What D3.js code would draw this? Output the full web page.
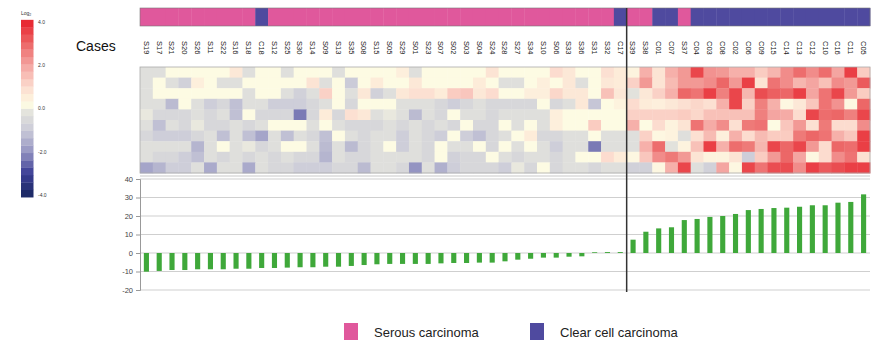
<!DOCTYPE html>
<html>
<head>
<meta charset="utf-8">
<script src="https://cdn.jsdelivr.net/npm/d3@7"></script>
<style>
body { margin: 0; background: #fff; }
text { font-family: "Liberation Sans", Arial, sans-serif; }
</style>
</head>
<body>
<div id="wrapper"></div>
<script>
const cases = ["S19","S17","S21","S20","S26","S11","S22","S16","S18","C18","S12","S25","S30","S14","S09","S13","S35","S08","S15",
    "S05","S29","S01","S23","S07","S02","S03","S04","S24","S28","S27","S34","S10","S06","S33","S36","S31","S32","C17",
    "S39","S38","C01","C07","S37","C04","C03","C08","C02","C06","C09","C15","C14","C13","C12","C10","C16","C11","C05"];

const barValues = [-10.1,-9.7,-9.2,-9.2,-8.8,-8.8,-8.8,-8.5,-8.5,-8.1,-8.1,-7.9,-7.7,-7.7,-7.4,-7.4,-7.0,-6.5,-6.1,
    -5.9,-5.9,-5.9,-5.9,-5.6,-5.4,-5.4,-5.2,-5.2,-4.5,-3.6,-3.1,-2.5,-2.5,-2.0,-1.8,0.4,0.5,0.5,
    7.2,11.5,13.3,13.9,17.8,18.4,19.5,20.0,21.1,23.2,23.8,24.3,24.5,25.0,25.8,25.8,27.2,27.6,31.7];

// log2 values, one array per heatmap row (57 cases each)
const heatRow1 = [-0.3,-0.3,0.2,0.2,0.2,0.2,0.2,0.7,-0.3,0.2,0.2,-0.3,0.2,0.2,0.2,-0.3,0.2,0.2,0.2,
    0.2,0.5,-0.3,0.2,0.2,0.2,0.2,0.2,0.8,0.2,0.2,0.2,0.2,1.0,0.7,0.2,0.2,0.9,0.6,
    0.4,1.8,0.8,1.8,2.2,3.5,2.3,2.2,1.8,1.8,1.3,1.7,2.4,2.9,2.4,2.9,2.0,3.6,1.3];
const heatRow2 = [-0.3,0.2,-0.3,-0.8,0.5,0.2,-0.3,-0.3,0.2,0.2,0.2,0.2,0.2,0.8,-0.3,0.2,-1.0,0.2,0.6,
    0.2,0.2,0.7,0.2,0.2,0.2,0.2,0.6,0.2,-0.3,-0.3,0.2,0.5,0.2,0.7,-0.3,0.2,0.7,0.6,
    1.2,2.2,0.8,1.6,2.2,2.2,2.4,3.0,2.2,3.6,0.8,2.8,2.4,1.7,2.0,1.5,2.4,2.2,3.2];
const heatRow3 = [-0.3,0.2,0.2,0.2,0.2,0.2,0.2,0.2,-0.3,0.2,0.2,-0.3,-0.8,-0.3,1.2,0.2,-0.3,0.7,-0.8,
    -0.3,0.7,0.9,0.9,0.6,1.3,1.4,0.7,1.0,0.2,0.2,0.5,0.5,1.1,0.7,0.7,0.2,1.5,0.7,
    -0.2,0.7,1.2,1.8,3.0,2.8,3.6,2.6,3.5,1.7,3.4,3.1,3.0,3.6,2.0,2.8,3.5,2.2,1.3];
const heatRow4 = [-0.3,-0.3,-1.3,0.2,-0.3,-0.9,-0.6,-1.2,-0.3,-0.3,-0.9,-0.9,-0.9,-0.6,-0.3,0.2,-0.6,0.2,0.2,
    0.2,-0.3,-0.3,-0.3,-0.6,-0.9,-0.6,-0.3,-0.6,-0.6,-0.6,-0.6,0.2,-0.6,-0.3,0.7,-1.1,0.2,0.4,
    1.0,0.6,0.5,0.7,0.9,1.1,0.9,1.8,3.5,1.2,2.6,1.8,0.3,0.7,1.4,2.8,2.3,0.3,3.0];
const heatRow5 = [-0.1,-0.6,-0.6,-0.6,-0.3,-0.6,-0.3,-1.2,0.2,-0.6,-0.6,-0.6,-2.3,-0.6,0.6,-0.6,0.9,0.7,-0.3,
    -0.1,-0.3,-1.3,-0.3,-0.6,0.2,-0.3,-0.3,-0.6,-0.3,-0.3,-0.3,-0.3,0.5,0.2,0.2,0.2,0.2,0.2,
    1.2,1.2,1.2,1.2,1.3,1.1,1.5,1.5,1.5,1.5,2.6,2.0,1.9,1.0,3.5,2.9,3.0,2.6,3.5];
const heatRow6 = [-0.3,-1.2,-0.3,-0.6,-0.1,-0.6,-0.6,-0.3,-0.6,-0.3,0.2,0.2,0.2,-0.3,0.2,-0.3,-0.6,-0.6,-0.6,
    -0.3,-0.6,-0.3,-0.6,-0.3,-0.6,0.2,-0.6,-0.6,0.2,-0.3,0.2,-0.3,0.5,0.2,0.2,1.3,0.2,0.2,
    1.8,0.2,1.0,0.4,0.8,2.8,1.9,2.4,0.9,2.7,2.8,0.2,1.4,2.2,0.9,2.7,1.0,1.0,2.4];
const heatRow7 = [-0.6,-0.9,-0.9,-0.9,-0.6,-0.3,-1.2,-0.3,-1.2,-1.7,-0.3,-1.2,-0.3,-0.6,-1.2,0.2,-0.3,-0.6,-0.3,
    -0.3,-0.9,-0.3,-0.6,-0.9,0.2,-0.9,-1.2,-0.6,-0.3,0.2,0.6,-0.6,-0.6,-0.3,-0.3,0.2,-0.3,-0.3,
    -0.3,1.2,0.3,0.4,-0.3,0.9,1.6,0.5,1.8,1.0,1.6,1.3,1.3,2.7,3.0,2.8,1.8,1.4,3.6];
const heatRow8 = [-0.3,-0.3,-0.3,-0.3,-1.4,-0.3,0.2,-0.3,-0.1,-0.6,-0.3,0.2,0.2,-0.3,-1.3,-0.3,-1.3,-0.6,-0.3,
    0.2,-0.9,-0.3,-0.6,0.2,-0.3,-0.3,0.2,-0.6,0.2,-0.3,0.2,-0.3,-0.9,-0.3,-0.3,-2.3,-0.3,-0.3,
    -0.3,1.8,2.9,-0.2,0.4,1.5,3.6,1.8,2.9,2.7,1.7,3.5,3.0,3.5,2.2,1.0,3.0,2.9,3.6];
const heatRow9 = [-0.3,-0.6,-0.6,-0.9,-1.2,-0.3,-0.6,-0.3,-0.6,-0.3,-0.6,-0.3,-0.6,-0.6,-1.4,-0.3,-0.6,-0.6,-0.3,
    -0.3,-0.3,-0.3,-0.6,0.2,-0.8,-0.6,-0.6,0.2,-0.3,-0.6,-0.3,-0.3,-0.6,-0.3,0.2,0.2,1.0,0.6,
    0.3,1.4,2.4,2.7,2.2,0.8,0.4,0.4,0.8,-0.9,1.3,2.2,3.0,2.0,0.3,1.0,2.4,2.8,0.9];
const heatRow10 = [-1.7,-1.4,-0.9,-0.9,-0.3,-1.6,-0.3,-0.3,-1.6,-0.3,-0.6,-0.6,-0.9,-0.9,-0.9,-0.6,-0.6,-1.3,-0.3,
    -0.3,-0.6,-2.0,-0.3,-1.5,-0.9,-0.6,-0.6,-0.6,-0.9,-0.1,-0.6,0.2,-0.6,-0.3,-0.3,-0.6,-0.3,-0.3,
    -0.8,-0.8,0.3,1.8,3.5,-0.3,-0.8,2.0,0.3,3.5,2.8,3.4,3.4,2.4,3.6,3.2,3.4,3.6,3.6];
const heatRows = [heatRow1,heatRow2,heatRow3,heatRow4,heatRow5,heatRow6,heatRow7,heatRow8,heatRow9,heatRow10];

const yTicks = [-20,-10,0,10,20,30,40];
const legendTicks = [4,2,0,-2,-4];
const histology = ["Serous carcinoma","Clear cell carcinoma"];
const histologyColor = {"Serous carcinoma": "#e0589c", "Clear cell carcinoma": "#4f4a9f"};
const typeOf = (c) => c[0] === "S" ? histology[0] : histology[1];

function buildPlot() {
    var dimension = {
        width: 894,
        height: 350,
        left: 140,
        right: 870
    };

    const svg = d3.select("#wrapper").append("svg")
        .attr("width", dimension.width)
        .attr("height", dimension.height);

    const xScaler = d3.scaleBand().domain(cases).range([dimension.left, dimension.right]);
    const rowScaler = d3.scaleBand().domain(d3.range(heatRows.length)).range([67, 173]);
    const colorScaler = d3.scaleLinear()
        .domain([-4,-3,-2,-1,-0.2,0.2,1,2,3,4])
        .range(["#1c2a64","#3c3e96","#9494c2","#cbcbd8","#e2e2dc","#fdfbe3","#fcdccf","#f4a5a1","#ec6767","#e8252f"])
        .clamp(true);

    // histology strip
    svg.append("g").selectAll("rect")
        .data(cases)
        .join("rect")
        .attr("x", d => xScaler(d))
        .attr("y", 8)
        .attr("width", xScaler.bandwidth() + 0.4)
        .attr("height", 18)
        .attr("fill", d => histologyColor[typeOf(d)]);
    svg.append("rect")
        .attr("x", dimension.left).attr("y", 8)
        .attr("width", dimension.right - dimension.left).attr("height", 18)
        .attr("fill", "none").attr("stroke", "#777").attr("stroke-width", 0.6);

    svg.append("text")
        .attr("x", 76).attr("y", 51)
        .attr("font-size", 14).attr("fill", "#111")
        .text("Cases");

    svg.append("g").selectAll("text")
        .data(cases)
        .join("text")
        .attr("transform", d => `translate(${xScaler(d) + xScaler.bandwidth() / 2},41) rotate(90)`)
        .attr("dy", "0.35em")
        .attr("font-size", 7.5)
        .attr("fill", "#222")
        .text(d => d);

    // heatmap
    const cells = [];
    heatRows.forEach((row, r) => row.forEach((v, i) => cells.push({r: r, c: cases[i], v: v})));
    svg.append("g").selectAll("rect")
        .data(cells)
        .join("rect")
        .attr("x", d => xScaler(d.c))
        .attr("y", d => rowScaler(d.r))
        .attr("width", xScaler.bandwidth() + 0.4)
        .attr("height", rowScaler.bandwidth() + 0.4)
        .attr("fill", d => colorScaler(d.v));
    svg.append("rect")
        .attr("x", dimension.left).attr("y", 67)
        .attr("width", dimension.right - dimension.left).attr("height", 106)
        .attr("fill", "none").attr("stroke", "#aaa").attr("stroke-width", 0.8);
    svg.append("line")
        .attr("x1", dimension.left).attr("x2", dimension.right)
        .attr("y1", 176).attr("y2", 176)
        .attr("stroke", "#e4e4e4").attr("stroke-width", 2);

    // bar chart
    const yScaler = d3.scaleLinear().domain([-20, 40]).range([290, 179]);
    const barScaler = d3.scaleBand().domain(cases).range([dimension.left, dimension.right])
        .paddingInner(0.6).paddingOuter(0.3);

    svg.append("g").selectAll("line")
        .data(yTicks)
        .join("line")
        .attr("x1", dimension.left).attr("x2", dimension.right)
        .attr("y1", d => yScaler(d)).attr("y2", d => yScaler(d))
        .attr("stroke", "#cfcfcf").attr("stroke-width", 1);

    svg.append("g").selectAll("rect")
        .data(cases)
        .join("rect")
        .attr("x", d => barScaler(d))
        .attr("y", (d, i) => yScaler(Math.max(0, barValues[i])))
        .attr("width", barScaler.bandwidth())
        .attr("height", (d, i) => Math.abs(yScaler(barValues[i]) - yScaler(0)))
        .attr("fill", "#3fa83a");

    const y_axis = d3.axisLeft(yScaler).tickValues(yTicks).tickSize(4).tickPadding(3).tickFormat(d => String(d));
    const yAxisG = svg.append("g")
        .attr("transform", `translate(${dimension.left},0)`)
        .call(y_axis);
    yAxisG.select(".domain").attr("stroke", "#999");
    yAxisG.selectAll(".tick line").attr("stroke", "#999");
    yAxisG.selectAll(".tick text").attr("font-size", 7.5).attr("fill", "#444")
        .attr("font-family", "\"Liberation Sans\", Arial, sans-serif");

    // divider between the two groups
    const splitX = xScaler(cases[38]);
    svg.append("line")
        .attr("x1", splitX).attr("x2", splitX)
        .attr("y1", 8).attr("y2", 292)
        .attr("stroke", "#333").attr("stroke-width", 1.5);

    // colour key
    const legendY = d3.scaleLinear().domain([-4, 4]).range([195, 22]);
    const nSteps = 24;
    const stepSize = 8.2 / nSteps;
    const steps = d3.range(nSteps).map(i => -4.1 + stepSize * i);
    svg.append("g").selectAll("rect")
        .data(steps)
        .join("rect")
        .attr("x", 21).attr("width", 12.5)
        .attr("y", d => legendY(d + stepSize))
        .attr("height", legendY(0) - legendY(stepSize) + 0.3)
        .attr("fill", d => colorScaler(d + stepSize / 2));
    svg.append("g").selectAll("text")
        .data(legendTicks)
        .join("text")
        .attr("x", 38)
        .attr("y", d => legendY(d))
        .attr("dy", "0.35em")
        .attr("font-size", 5)
        .attr("fill", "#333")
        .text(d => d.toFixed(1));
    const logLabel = svg.append("text").attr("x", 21).attr("y", 15).attr("font-size", 5).attr("fill", "#333");
    logLabel.append("tspan").text("Log");
    logLabel.append("tspan").attr("font-size", 3.5).attr("dy", 1.2).text("2");

    // histology key
    const keyX = d3.scaleOrdinal().domain(histology).range([344, 530]);
    const key = svg.append("g").selectAll("g")
        .data(histology)
        .join("g")
        .attr("transform", d => `translate(${keyX(d)},323)`);
    key.append("rect")
        .attr("width", 14).attr("height", 17)
        .attr("fill", d => histologyColor[d]);
    key.append("text")
        .attr("x", 30).attr("y", 13.5)
        .attr("font-size", 13).attr("fill", "#222")
        .text(d => d);
}
buildPlot();
</script>
</body>
</html>
